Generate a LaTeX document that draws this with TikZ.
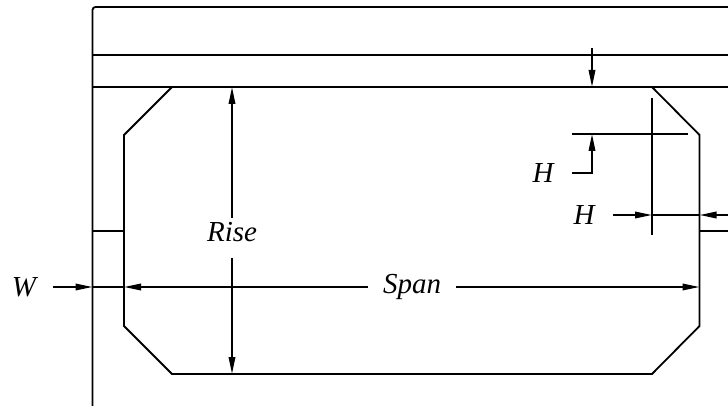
\documentclass[tikz,border=0pt]{standalone}
\usepackage{fontspec}
\setmainfont{Liberation Serif}
\usetikzlibrary{arrows.meta}

\tikzset{
    wall/.style={line width=1.8pt},
    heavy/.style={line width=2.3pt},
    dim/.style={line width=1.8pt,-{Triangle[length=17pt,width=6.5pt]}},
    dimlabel/.style={inner sep=0pt,minimum width=58pt,minimum height=30pt,font=\fontsize{29}{29}\selectfont\itshape}
}

\begin{document}
\begin{tikzpicture}[x=1pt,y=-1pt]
        \useasboundingbox (0,0) rectangle (728,406);
        % culvert outline
        \coordinate (c_1) at (172,87);
        \coordinate (c_2) at (124,135);
        \coordinate (c_3) at (124,326);
        \coordinate (c_4) at (172,374);
        \coordinate (c_5) at (652,374);
        \coordinate (c_6) at (699.5,326);
        \coordinate (c_7) at (699.5,135);
        \coordinate (c_8) at (652,87);
        \coordinate (wallTop) at (92.5,7);
        \coordinate (wallBot) at (92.5,406);
        \coordinate (edgeTop) at (728,7);
        \coordinate (slabLeft) at (92.5,55);
        \coordinate (slabRight) at (728,55);
        \coordinate (soffitLeft) at (92.5,87);
        \coordinate (soffitRight) at (728,87);
        \coordinate (stubL_1) at (92.5,231);
        \coordinate (stubL_2) at (124,231);
        \coordinate (stubR_1) at (699.5,231);
        \coordinate (stubR_2) at (728,231);
        \draw[wall,rounded corners=3pt] (wallBot) -- (wallTop) -- (edgeTop);
        \draw[wall] (slabLeft) -- (slabRight);
        \draw[wall] (soffitLeft) -- (soffitRight);
        \draw[wall] (c_1) -- (c_2) -- (c_3) -- (c_4) -- (c_5) -- (c_6) -- (c_7) -- (c_8);
        \draw[wall] (stubL_1) -- (stubL_2);
        \draw[wall] (stubR_1) -- (stubR_2);
        % overdrawn parts
        \draw[heavy] (184,87) -- (252,87);
        \draw[heavy] (573,87) -- (640,87);
        \draw[heavy] (183,374) -- (640,374);
        \draw[heavy] (124,268) -- (124,315);
        % labels
        \node[dimlabel] (W) at (24,287) {W};
        \node[dimlabel] (H_1) at (543,173) {H};
        \node[dimlabel] (H_2) at (584,215) {H};
        \node[dimlabel,minimum width=88pt] (Span) at (412,287) {Span};
        \node[dimlabel] (Rise) at (232,232) {Rise};
        % rise
        \coordinate (riseTop) at (232,218);
        \coordinate (riseBot) at (232,258);
        \coordinate (riseEndT) at (232,87);
        \coordinate (riseEndB) at (232,374);
        \draw[dim] (riseTop) -- (riseEndT);
        \draw[dim] (riseBot) -- (riseEndB);
        % span and wall
        \coordinate (spanEndL) at (124,287);
        \coordinate (spanEndR) at (699.5,287);
        \coordinate (wallHit) at (92.5,287);
        \draw[dim] (Span.west) -- (spanEndL);
        \draw[dim] (Span.east) -- (spanEndR);
        \draw[dim] (W.east) -- (wallHit);
        \draw[wall] (wallHit) -- (spanEndL);
        % haunch
        \coordinate (topA) at (592,48);
        \coordinate (topB) at (592,87);
        \coordinate (hLeft) at (572,134);
        \coordinate (hRight) at (688,134);
        \coordinate (hArrow) at (592,134);
        \coordinate (hCorner) at (592,173);
        \coordinate (vTop) at (652,98);
        \coordinate (vBot) at (652,235);
        \coordinate (vHit) at (652,215);
        \coordinate (wHit) at (699.5,215);
        \coordinate (wOut) at (728,215);
        \draw[dim] (topA) -- (topB);
        \draw[wall] (hLeft) -- (hRight);
        \draw[wall] (vTop) -- (vBot);
        \draw[dim] (H_1.east) -- (hCorner) -- (hArrow);
        \draw[dim] (H_2.east) -- (vHit);
        \draw[wall] (vHit) -- (wHit);
        \draw[dim] (wOut) -- (wHit);
    \end{tikzpicture}
\end{document}
